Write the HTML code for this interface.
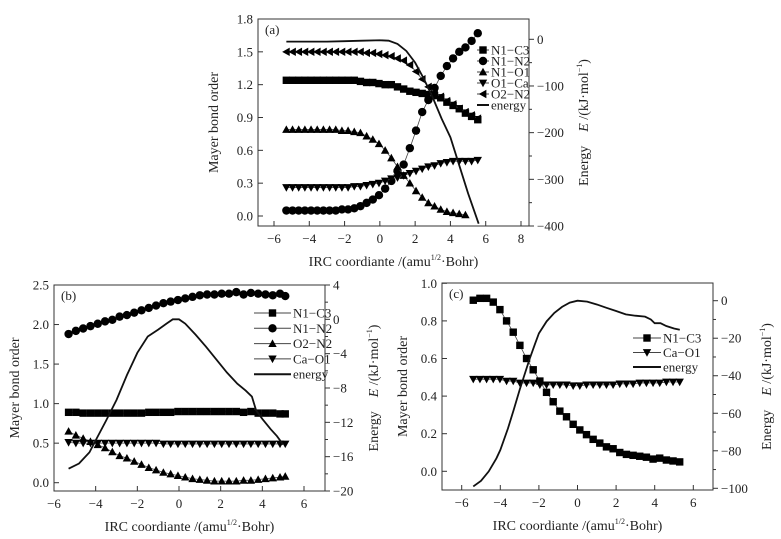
<!DOCTYPE html>
<html><head><meta charset="utf-8"><style>
body{margin:0;background:#fff}
svg{display:block;font-family:"Liberation Serif",serif}
</style></head><body>
<svg id="fig" width="781" height="539" viewBox="0 0 781 539"></svg>
<script>
// ---------- Panel (a) data ----------
const xA = [-5.3,-4.95,-4.6,-4.25,-3.9,-3.55,-3.2,-2.85,-2.5,-2.15,-1.8,-1.45,-1.1,-0.75,-0.4,-0.05,0.3,0.65,1.0,1.35,1.7,2.05,2.4,2.75,3.1,3.45,3.8,4.15,4.5,4.85,5.2,5.55];
const aN1C3 = [1.24,1.24,1.24,1.24,1.24,1.24,1.24,1.24,1.24,1.24,1.24,1.24,1.23,1.22,1.22,1.21,1.20,1.20,1.18,1.16,1.14,1.13,1.12,1.11,1.10,1.08,1.04,1.01,0.98,0.94,0.91,0.88];
const aN1N2 = [0.05,0.05,0.05,0.05,0.05,0.05,0.05,0.05,0.05,0.06,0.06,0.07,0.09,0.12,0.15,0.19,0.25,0.32,0.41,0.47,0.62,0.78,0.95,1.06,1.17,1.28,1.37,1.44,1.50,1.54,1.60,1.67];
const aN1O1 = [0.79,0.79,0.79,0.79,0.79,0.79,0.79,0.79,0.79,0.78,0.78,0.77,0.76,0.73,0.70,0.66,0.60,0.53,0.45,0.37,0.30,0.23,0.17,0.12,0.09,0.06,0.04,0.03,0.02,0.01,null,null];
const aO1Ca = [0.26,0.26,0.26,0.26,0.26,0.26,0.26,0.26,0.26,0.26,0.26,0.27,0.27,0.28,0.29,0.30,0.32,0.34,0.35,0.37,0.39,0.41,0.43,0.45,0.46,0.48,0.49,0.50,0.50,0.50,0.50,0.51];
const aO2N2 = [1.50,1.50,1.50,1.50,1.50,1.50,1.50,1.50,1.50,1.50,1.50,1.50,1.50,1.49,1.49,1.48,1.47,1.46,1.44,1.42,1.38,1.32,1.25,1.18,1.13,1.09,1.05,1.02,0.98,0.95,0.92,0.89];
const aEx = [-5.3,-4,-3,-2,-1,0,0.5,1,1.5,2,2.5,3,3.5,4,4.5,5,5.6];
const aEv = [-5,-5,-5,-4,-3,-2,-3,-10,-25,-50,-85,-125,-170,-210,-270,-330,-395];

// ---------- Panel (b) data ----------
const xB = [-5.3,-4.95,-4.6,-4.25,-3.9,-3.55,-3.2,-2.85,-2.5,-2.15,-1.8,-1.45,-1.1,-0.75,-0.4,-0.05,0.3,0.65,1.0,1.35,1.7,2.05,2.4,2.75,3.1,3.45,3.8,4.15,4.5,4.85,5.1];
const bN1C3 = [0.89,0.89,0.88,0.88,0.88,0.88,0.88,0.88,0.88,0.88,0.88,0.89,0.89,0.89,0.89,0.90,0.90,0.90,0.90,0.90,0.90,0.90,0.90,0.90,0.89,0.90,0.88,0.88,0.88,0.87,0.87];
const bN1N2 = [1.88,1.92,1.95,1.98,2.01,2.04,2.06,2.10,2.12,2.15,2.18,2.21,2.24,2.27,2.29,2.31,2.33,2.35,2.37,2.38,2.38,2.39,2.39,2.41,2.38,2.40,2.39,2.38,2.37,2.39,2.36];
const bO2N2 = [0.65,0.60,0.56,0.52,0.48,0.44,0.39,0.34,0.31,0.27,0.23,0.19,0.16,0.13,0.11,0.09,0.07,0.05,0.04,0.03,0.02,0.02,0.02,0.02,0.03,0.03,0.04,0.05,0.06,0.07,0.08];
const bCaO1 = [0.51,0.50,0.50,0.50,0.50,0.50,0.50,0.50,0.50,0.50,0.50,0.50,0.50,0.49,0.49,0.49,0.49,0.49,0.49,0.49,0.49,0.49,0.49,0.49,0.49,0.49,0.49,0.49,0.49,0.49,0.49];
const bEx = [-5.3,-4.8,-4.3,-4,-3.5,-3,-2.5,-2,-1.5,-1,-0.6,-0.3,0,0.3,0.8,1.3,1.8,2.3,2.8,3.2,3.5,3.7,4.0,4.4,4.7,5.0];
const bEv = [-17.4,-16.8,-15.5,-14.1,-11.8,-9.4,-6.5,-3.9,-2.0,-1.2,-0.5,0,0,-0.5,-1.8,-3.2,-4.7,-6.2,-7.5,-8.3,-9.0,-10.6,-11.6,-12.8,-13.6,-14.6];

// ---------- Panel (c) data ----------
const xC = [-5.4,-5.055,-4.71,-4.365,-4.02,-3.675,-3.33,-2.985,-2.64,-2.295,-1.95,-1.605,-1.26,-0.915,-0.57,-0.225,0.12,0.465,0.81,1.155,1.5,1.845,2.19,2.535,2.88,3.225,3.57,3.915,4.26,4.605,4.95,5.295];
const cN1C3 = [0.91,0.92,0.92,0.90,0.86,0.80,0.74,0.67,0.60,0.54,0.48,0.42,0.37,0.32,0.29,0.25,0.22,0.195,0.17,0.15,0.13,0.12,0.10,0.09,0.085,0.08,0.075,0.065,0.07,0.06,0.055,0.05];
const cCaO1 = [0.49,0.49,0.49,0.49,0.49,0.48,0.48,0.47,0.47,0.47,0.46,0.46,0.46,0.46,0.46,0.455,0.455,0.46,0.46,0.46,0.46,0.46,0.465,0.465,0.465,0.47,0.47,0.47,0.47,0.475,0.475,0.475];
const cEx = [-5.4,-5,-4.6,-4.2,-4,-3.6,-3.3,-3,-2.7,-2.5,-2.2,-2,-1.6,-1.2,-0.8,-0.4,0,0.5,1,1.5,2,2.5,3,3.5,3.8,4,4.3,4.6,5,5.3];
const cEv = [-99,-96,-91,-84,-79.6,-68,-58,-47.6,-38,-31.6,-23,-17.4,-11,-6.5,-3.3,-1,0,-0.5,-2,-3.8,-5.5,-7.3,-8,-8.5,-10,-12,-12,-13.5,-14.8,-15.5];

// ---------- tick labels ----------
const aXTicks = [-6,-4,-2,0,2,4,6,8];
const aLTicks = ["0.0","0.3","0.6","0.9","1.2","1.5","1.8"];
const aRTicks = [0,-100,-200,-300,-400];
const bXTicks = [-6,-4,-2,0,2,4,6];
const bLTicks = ["0.0","0.5","1.0","1.5","2.0","2.5"];
const bRTicks = [4,0,-4,-8,-12,-16,-20];
const cXTicks = [-6,-4,-2,0,2,4,6];
const cLTicks = ["0.0","0.2","0.4","0.6","0.8","1.0"];
const cRTicks = [0,-20,-40,-60,-80,-100];

const NS="http://www.w3.org/2000/svg";
const svg=document.getElementById('fig');
function mk(tag,attrs,parent){const e=document.createElementNS(NS,tag);for(const k in attrs)e.setAttribute(k,attrs[k]);(parent||svg).appendChild(e);return e;}
function lin(d0,d1,p0,p1){return v=>p0+(v-d0)*(p1-p0)/(d1-d0);}
function fmt(v){return (v<0?"\u2212":"")+Math.abs(v);}

function marker(g,type,x,y){
  const s=4.2;let e;
  if(type==='sq') e=mk('rect',{x:x-s+0.5,y:y-s+0.5,width:2*s-1,height:2*s-1,fill:'#000'},g);
  else if(type==='ci') e=mk('circle',{cx:x,cy:y,r:s,fill:'#000'},g);
  else if(type==='up') e=mk('polygon',{points:`${x},${y-s} ${x-s},${y+s*0.8} ${x+s},${y+s*0.8}`,fill:'#000'},g);
  else if(type==='dn') e=mk('polygon',{points:`${x},${y+s} ${x-s},${y-s*0.8} ${x+s},${y-s*0.8}`,fill:'#000'},g);
  else if(type==='lf') e=mk('polygon',{points:`${x-s},${y} ${x+s*0.8},${y-s} ${x+s*0.8},${y+s}`,fill:'#000'},g);
  
  
}

function panel(cfg){
  const g=mk('g',{});
  
  
  const {L,R,T,B}=cfg.box;
  const X=lin(cfg.x0[0],cfg.x1[0],cfg.x0[1],cfg.x1[1]);
  const YL=lin(cfg.l0[0],cfg.l1[0],cfg.l0[1],cfg.l1[1]);
  const YR=lin(cfg.r0[0],cfg.r1[0],cfg.r0[1],cfg.r1[1]);
  const fr=mk('rect',{x:L,y:T,width:R-L,height:B-T,fill:'none',stroke:'#333','stroke-width':1},g);
  
  // x ticks
  cfg.xt.forEach(v=>{const x=X(v);mk('line',{x1:x,y1:B,x2:x,y2:B-5,stroke:'#333'},g);
    const t=mk('text',{x:x,y:B+17,'font-size':13,'text-anchor':'middle',fill:'#222'},g);t.textContent=fmt(v);
    });
  // left ticks
  cfg.lt.forEach(s=>{const y=YL(parseFloat(s));mk('line',{x1:L,y1:y,x2:L+5,y2:y,stroke:'#333'},g);
    const t=mk('text',{x:L-5,y:y+4.5,'font-size':13,'text-anchor':'end',fill:'#222'},g);t.textContent=s;
    });
  // right ticks with minors
  for(let i=0;i<cfg.rt.length;i++){const v=cfg.rt[i];const y=YR(v);
    mk('line',{x1:R,y1:y,x2:R+5,y2:y,stroke:'#333'},g);
    if(i<cfg.rt.length-1){const ym=(y+YR(cfg.rt[i+1]))/2;mk('line',{x1:R,y1:ym,x2:R+3,y2:ym,stroke:'#333'},g);}
    const t=mk('text',{x:R+8,y:y+4.5,'font-size':13,fill:'#222'},g);t.textContent=fmt(v);
    }
  // titles
  const lx=mk('text',{x:(L+R)/2+cfg.xtOff,y:B+40,'font-size':14,'text-anchor':'middle',fill:'#222'},g);
  lx.innerHTML='IRC coordiante /(amu<tspan font-size="8" dy="-6">1/2</tspan><tspan dy="6">·Bohr)</tspan>';
  
  const ly=mk('text',{x:0,y:0,'font-size':14,'text-anchor':'middle',fill:'#222',transform:`translate(${cfg.lyX},${(T+B)/2}) rotate(-90)`},g);
  ly.textContent='Mayer bond order';
  const ry=mk('text',{x:0,y:0,'font-size':14,'text-anchor':'middle',fill:'#222',transform:`translate(${cfg.ryX},${(T+B)/2}) rotate(-90)`},g);
  ry.innerHTML='Energy\u2003<tspan font-style="italic">E</tspan> /(kJ·mol<tspan font-size="8" dy="-6">−1</tspan><tspan dy="6">)</tspan>';
  
  const pl=mk('text',{x:L+7,y:T+15,'font-size':13,fill:'#222'},g);pl.textContent=cfg.label;
  
  // series
  cfg.series.forEach(s=>{
    const pts=[];cfg.xs.forEach((xv,i)=>{if(s.v[i]!=null)pts.push([X(xv),YL(s.v[i])]);});
    const sg=mk('g',{},g);
    const p=mk('polyline',{points:pts.map(p=>p.join(',')).join(' '),fill:'none',stroke:'#444','stroke-width':0.8},sg);
    pts.forEach(q=>marker(sg,s.m,q[0],q[1]));
  });
  const ep=cfg.ex.map((xv,i)=>[X(xv),YR(cfg.ev[i])]);
  const el=mk('polyline',{points:ep.map(p=>p.join(',')).join(' '),fill:'none',stroke:'#111','stroke-width':1.8},g);
  
  // legend
  const lg=mk('g',{},g);
  const items=cfg.series.map(s=>[s.n,s.m]).concat([['energy',null]]);
  items.forEach((it,i)=>{const y=cfg.leg.y+i*cfg.leg.dy;
    const e=mk('g',{},lg);
    if(it[1]){mk('line',{x1:cfg.leg.x,y1:y,x2:cfg.leg.x+cfg.leg.w,y2:y,stroke:'#444','stroke-width':1},e);marker(e,it[1],cfg.leg.x+cfg.leg.w/2,y);}
    else mk('line',{x1:cfg.leg.x,y1:y,x2:cfg.leg.x+cfg.leg.w,y2:y,stroke:'#111','stroke-width':2},e);
    const t=mk('text',{x:cfg.leg.x+cfg.leg.w+2,y:y+4.5,'font-size':cfg.leg.fs,fill:'#222'},e);t.textContent=it[0].replace('-','\u2212');});
}

panel({name:'panel-a',label:'(a)',box:{L:258,R:529,T:19,B:226},x0:[-6,274],x1:[8,521],l0:[0,216],l1:[1.8,19],r0:[0,39.3],r1:[-400,226],
  xt:aXTicks,lt:aLTicks,rt:aRTicks,xtOff:0,lyX:218,ryX:588,xs:xA,
  series:[{n:'N1-C3',m:'sq',v:aN1C3},{n:'N1-N2',m:'ci',v:aN1N2},{n:'N1-O1',m:'up',v:aN1O1},{n:'O1-Ca',m:'dn',v:aO1Ca},{n:'O2-N2',m:'lf',v:aO2N2}],
  ex:aEx,ev:aEv,leg:{x:477,y:50,dy:11,w:12,fs:13}});
panel({name:'panel-b',label:'(b)',box:{L:54,R:325,T:285,B:491},x0:[-6,54],x1:[6,304],l0:[0,482.7],l1:[2.5,285],r0:[4,285],r1:[-20,491],
  xt:bXTicks,lt:bLTicks,rt:bRTicks,xtOff:0,lyX:19,ryX:378,xs:xB,
  series:[{n:'N1-C3',m:'sq',v:bN1C3},{n:'N1-N2',m:'ci',v:bN1N2},{n:'O2-N2',m:'up',v:bO2N2},{n:'Ca-O1',m:'dn',v:bCaO1}],
  ex:bEx,ev:bEv,leg:{x:254,y:313,dy:15.3,w:37,fs:13}});
panel({name:'panel-c',label:'(c)',box:{L:442,R:713,T:283,B:490},x0:[-6,461.7],x1:[6,693.3],l0:[0,471.3],l1:[1,283.3],r0:[0,300.7],r1:[-100,488.3],
  xt:cXTicks,lt:cLTicks,rt:cRTicks,xtOff:0,lyX:407,ryX:771,xs:xC,
  series:[{n:'N1-C3',m:'sq',v:cN1C3},{n:'Ca-O1',m:'dn',v:cCaO1}],
  ex:cEx,ev:cEv,leg:{x:633,y:338,dy:14.5,w:28,fs:13}});
</script>
</body></html>
